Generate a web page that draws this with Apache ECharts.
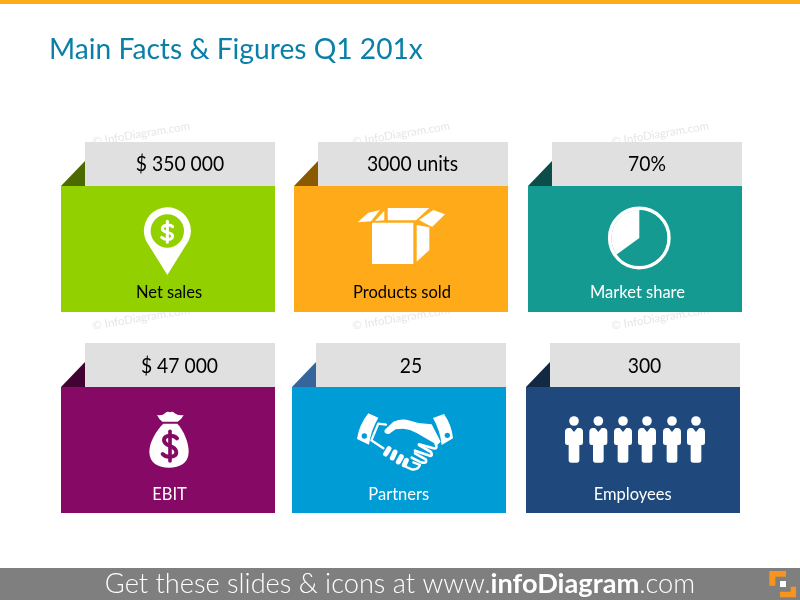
<!DOCTYPE html>
<html>
<head>
<meta charset="utf-8">
<title>Main Facts & Figures Q1 201x</title>
<script src="https://cdn.jsdelivr.net/npm/echarts@6/dist/echarts.min.js"></script>
<style>
html,body{margin:0;padding:0;background:#fff;}
#main{width:800px;height:600px;}
</style>
</head>
<body>
<div id="main"></div>
<script>
var titleText = 'Main Facts & Figures Q1 201x';
var factValues = ['$ 350 000', '3000 units', '70%', '$ 47 000', '25', '300'];
var factLabels = ['Net sales', 'Products sold', 'Market share', 'EBIT', 'Partners', 'Employees'];
// share of the little pie icon: empty part, white part
var marketShareSlices = [65, 35];
var watermarkText = '\u00a9 InfoDiagram.com';

var cardColors = ['#92D000', '#FFAA18', '#159A92', '#860A65', '#009CD5', '#1F497D'];
var foldColors = ['#4B6B00', '#8A5A00', '#0B4D49', '#420333', '#35659A', '#122843'];
var labelColors = ['#000', '#000', '#fff', '#fff', '#fff', '#fff'];
var cardLeft = [61, 294, 528, 61, 292, 526];
var cardTop = [186, 186, 186, 387, 387, 387];
var valueCenter = [180, 412.5, 647, 179.5, 411, 644.5];
var valueMiddle = [164.5, 164.5, 164.5, 366.5, 366.5, 366.5];
var labelCenter = [169, 402, 637.5, 169.5, 398.7, 632.7];
var labelMiddle = [293, 293, 293, 494.5, 494.5, 494.5];
var markX = [141, 401, 660];
var markY = [134, 318];
var font = 'Lato, "Noto Sans", sans-serif';

var myChart = echarts.init(document.getElementById('main'));
var els = [];
var shapeCount = 0;

function addRect(x, y, w, h, color){
	els.push({type:'rect', silent:true, shape:{x:x, y:y, width:w, height:h}, style:{fill:color}});
}

function addText(text, x, y, size, color, align, scaleX){
	els.push({type:'text', silent:true, x:x, y:y, scaleX:scaleX || 1, style:{
		text:text, font:size + 'px ' + font, fill:color,
		align:align, verticalAlign:'middle', textAlign:align, textVerticalAlign:'middle'
	}});
}

// the graphic component has no plain path type, so each svg path gets its own shape class
function pathType(d){
	var name = 'iconPath' + (shapeCount++);
	echarts.graphic.registerShape(name, echarts.graphic.extendPath(d));
	return name;
}

function fillPath(d, color){
	return {type:pathType(d), silent:true, style:{fill:color}};
}

function strokePath(d, color, width){
	return {type:pathType(d), silent:true, style:{fill:null, stroke:color, lineWidth:width, lineCap:'round', lineJoin:'round'}};
}

function circle(x, y, r, color){
	return {type:'circle', silent:true, shape:{cx:x, cy:y, r:r}, style:{fill:color}};
}

// icons are drawn at 3x, the coordinates of the zoomed crops
function addIcon(ox, oy, children){
	els.push({type:'group', silent:true, x:ox, y:oy, scaleX:1/3, scaleY:1/3, children:children});
}

function pinIcon(){
	addIcon(50, 120, [
		fillPath('M352 465 L288 362 A70.5 70.5 0 1 1 416 362 Z', '#fff'),
		circle(352, 333, 50, cardColors[0]),
		strokePath('M368 320 C361 313 337 313 337 326 C337 340 368 334 368 348 C368 361 343 361 335 352', '#fff', 9),
		strokePath('M352 304 L352 367', '#fff', 9)
	]);
}

function boxIcon(){
	addIcon(285, 120, [
		fillPath('M261 308 L385 308 L385 432 L261 432 Z', '#fff'),
		fillPath('M395 315 L433 322 L433 390 L395 425 Z', '#fff'),
		fillPath('M308 264 L433 264 L393 301 L308 301 Z', '#fff'),
		fillPath('M218 307 L250 278 L285 270 L258 304 Z', '#fff'),
		fillPath('M270 303 L298 272 L298 301 Z', '#fff'),
		fillPath('M445 270 L480 283 L441 321 L402 300 Z', '#fff')
	]);
}

function bagIcon(){
	addIcon(50, 330, [
		fillPath('M321 255 Q338 258 345 250 Q352 243 360 247 Q368 243 374 250 Q385 258 401 255 Q395 268 383 275 L337 275 Q327 268 321 255 Z', '#fff'),
		fillPath('M340 281 L382 281 C400 300 416 335 416 365 C416 398 390 413 357 413 C324 413 298 398 298 365 C298 335 320 300 340 281 Z', '#fff'),
		strokePath('M381 325 C371 314 342 314 342 331 C342 351 379 345 379 367 C379 384 348 384 338 372', cardColors[3], 12),
		strokePath('M360 304 L360 393', cardColors[3], 11)
	]);
}

function handshakeIcon(){
	addIcon(285, 330, [
		fillPath('M250 250 L280 263 Q258 300 252 344 L216 327 Q222 285 250 250 Z', '#fff'),
		circle(238, 318, 8, cardColors[4]),
		fillPath('M444 264 L477 252 Q500 285 504 325 L470 345 Q465 300 444 264 Z', '#fff'),
		circle(487, 316, 8, cardColors[4]),
		strokePath('M303 284 L280 281 L259 331 L295 355', '#fff', 7),
		fillPath('M299 300 L325 275 Q345 266 365 269 L400 279 L440 283 L467 335 L457 345 L395 309 Q375 297 355 296 L332 298 L312 312 Q295 312 299 300 Z', '#fff'),
		strokePath('M302 372 L312 356', '#fff', 15),
		strokePath('M322 384 L330 366', '#fff', 15),
		strokePath('M340 396 L349 380', '#fff', 15),
		strokePath('M358 405 L364 391', '#fff', 15),
		strokePath('M452 342 Q460 360 440 353 L402 343', '#fff', 8),
		strokePath('M402 345 L438 366 Q446 384 425 374 L390 362', '#fff', 8),
		strokePath('M390 370 L422 388 Q428 402 408 397 L380 383', '#fff', 8),
		strokePath('M385 397 L405 405 Q398 421 380 418 L364 411', '#fff', 7)
	]);
}

function peopleIcon(){
	var person = 'M-10 294 L0 306 L10 294 L18 294 Q27 296 27 306 L27 338 Q27 345 20 345 L16 345 L16 390 Q16 398 8 398 L-8 398 Q-16 398 -16 390 L-16 345 L-20 345 Q-27 345 -27 338 L-27 306 Q-27 296 -18 294 Z';
	var heads = [162, 235, 309, 381, 456, 528];
	var children = [];
	for(var i = 0; i < heads.length; i++){
		children.push(circle(heads[i], 273, 14.5, '#fff'));
		var body = fillPath(person, '#fff');
		body.x = heads[i];
		children.push(body);
	}
	addIcon(520, 330, children);
}

addRect(0, 0, 800, 4, '#FFAA18');
addText(titleText, 49, 49.5, 28.2, '#0A7FA8', 'left');

for(var m = 0; m < markX.length; m++){
	for(var n = 0; n < markY.length; n++){
		els.push({type:'text', silent:true, x:markX[m], y:markY[n], rotation:0.165, style:{
			text:watermarkText, font:'11.5px ' + font, fill:'#E6E6E6',
			align:'center', verticalAlign:'middle', textAlign:'center', textVerticalAlign:'middle'
		}});
	}
}

for(var i = 0; i < factValues.length; i++){
	var x = cardLeft[i], y = cardTop[i];
	addRect(x + 24, y - 44, 190, 44, '#E0E0E0');
	els.push({type:'polygon', silent:true, shape:{points:[[x, y], [x + 24, y], [x + 24, y - 25]]}, style:{fill:foldColors[i]}});
	addRect(x, y, 214, 126, cardColors[i]);
	addText(factValues[i], valueCenter[i], valueMiddle[i], 21, '#000', 'center', 0.92);
	addText(factLabels[i], labelCenter[i], labelMiddle[i], 16.5, labelColors[i], 'center');
}

pinIcon();
boxIcon();
bagIcon();
handshakeIcon();
peopleIcon();

// ring of the market share icon, the slice itself is a pie series below
els.push({type:'circle', silent:true, shape:{cx:639.3, cy:238, r:29.6}, style:{fill:null, stroke:'#fff', lineWidth:3.6}});

// footer
addRect(0, 568, 800, 32, '#7F7F7F');
els.push({type:'text', silent:true, x:400, y:584, style:{
	text:'{a|Get these slides & icons at www.}{b|infoDiagram}{a|.com}',
	align:'center', verticalAlign:'middle', textAlign:'center', textVerticalAlign:'middle',
	rich:{
		a:{fontSize:27.2, fontFamily:'Lato', fontWeight:300, fill:'#fff'},
		b:{fontSize:27.2, fontFamily:'Lato', fontWeight:'bold', fill:'#fff'}
	}
}});
els.push({type:'polygon', silent:true, shape:{points:[[769.3,571],[786,571],[786,576.7],[775.3,576.7],[775.3,585.7],[769.3,585.7]]}, style:{fill:'#F7941E'}});
els.push({type:'polygon', silent:true, shape:{points:[[796,597.3],[780,597.3],[780,591.7],[790.7,591.7],[790.7,586.7],[796,586.7]]}, style:{fill:'#F7941E'}});
addRect(780, 581, 6, 6, '#fff');

var option = {
	animation:false,
	backgroundColor:'#fff',
	graphic:{elements:els},
	series:[{
		type:'pie',
		z:10,
		silent:true,
		center:[639.3, 238],
		radius:[0, 28],
		startAngle:90,
		clockwise:true,
		label:{show:false},
		labelLine:{show:false},
		data:[
			{value:marketShareSlices[0], name:'Rest', itemStyle:{color:cardColors[2]}},
			{value:marketShareSlices[1], name:'Share', itemStyle:{color:'#fff'}}
		]
	}]
};
myChart.setOption(option);
</script>
</body>
</html>
